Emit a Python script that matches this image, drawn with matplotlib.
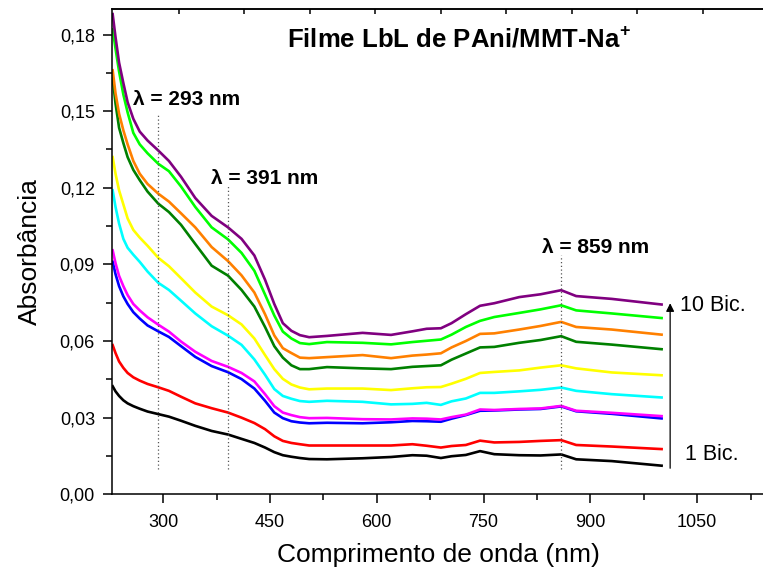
import matplotlib
matplotlib.use("Agg")
import matplotlib.pyplot as plt
from matplotlib.ticker import MultipleLocator, FixedLocator

plt.rcParams['font.family'] = ['Liberation Sans', 'DejaVu Sans']
plt.rcParams['mathtext.fontset'] = 'custom'
plt.rcParams['mathtext.rm'] = 'Liberation Sans'
plt.rcParams['mathtext.bf'] = 'Liberation Sans:bold'

# comprimento de onda (nm)
wl = [229, 233, 238, 244, 250, 258, 267, 278, 293, 308, 325, 345, 368, 391, 410,
      428, 443, 456, 468, 480, 492, 505, 530, 580, 620, 650, 670, 690, 705, 725,
      745, 765, 800, 830, 859, 880, 930, 1000]

# absorbancia de cada bicamada (1 a 10)
bic1 = [0.0423, 0.0403, 0.0385, 0.0368, 0.0356, 0.0345, 0.0335, 0.0324, 0.0314, 0.0304,
        0.0288, 0.0268, 0.0248, 0.0234, 0.0217, 0.0201, 0.0183, 0.0165, 0.0153, 0.0147,
        0.0142, 0.0138, 0.0137, 0.0141, 0.0146, 0.0153, 0.0151, 0.0142, 0.0149, 0.0154,
        0.0169, 0.0157, 0.0153, 0.0152, 0.0156, 0.0137, 0.0130, 0.0112]
bic2 = [0.0584, 0.0553, 0.0520, 0.0495, 0.0475, 0.0458, 0.0445, 0.0432, 0.0419, 0.0405,
        0.0382, 0.0356, 0.0337, 0.0320, 0.0300, 0.0279, 0.0255, 0.0227, 0.0209, 0.0201,
        0.0196, 0.0191, 0.0191, 0.0191, 0.0191, 0.0196, 0.0190, 0.0183, 0.0189, 0.0193,
        0.0210, 0.0203, 0.0205, 0.0209, 0.0212, 0.0193, 0.0187, 0.0177]
bic3 = [0.0910, 0.0862, 0.0815, 0.0775, 0.0745, 0.0713, 0.0688, 0.0661, 0.0638, 0.0616,
        0.0580, 0.0538, 0.0502, 0.0478, 0.0451, 0.0414, 0.0366, 0.0320, 0.0298, 0.0286,
        0.0281, 0.0278, 0.0280, 0.0278, 0.0282, 0.0287, 0.0286, 0.0284, 0.0296, 0.0310,
        0.0327, 0.0328, 0.0332, 0.0334, 0.0344, 0.0325, 0.0315, 0.0297]
bic4 = [0.0955, 0.0905, 0.0855, 0.0815, 0.0780, 0.0745, 0.0720, 0.0693, 0.0664, 0.0637,
        0.0598, 0.0558, 0.0522, 0.0499, 0.0475, 0.0442, 0.0392, 0.0345, 0.0320, 0.0310,
        0.0302, 0.0298, 0.0299, 0.0294, 0.0293, 0.0297, 0.0296, 0.0293, 0.0302, 0.0312,
        0.0332, 0.0330, 0.0334, 0.0336, 0.0346, 0.0327, 0.0319, 0.0306]
bic5 = [0.1190, 0.1125, 0.1060, 0.1000, 0.0965, 0.0938, 0.0910, 0.0872, 0.0828, 0.0800,
        0.0758, 0.0708, 0.0658, 0.0621, 0.0585, 0.0528, 0.0468, 0.0412, 0.0385, 0.0374,
        0.0365, 0.0362, 0.0366, 0.0362, 0.0352, 0.0354, 0.0358, 0.0350, 0.0364, 0.0375,
        0.0397, 0.0397, 0.0403, 0.0409, 0.0418, 0.0405, 0.0392, 0.0379]
bic6 = [0.1320, 0.1255, 0.1190, 0.1135, 0.1080, 0.1035, 0.1005, 0.0973, 0.0926, 0.0893,
        0.0846, 0.0790, 0.0735, 0.0701, 0.0665, 0.0610, 0.0545, 0.0490, 0.0452, 0.0430,
        0.0418, 0.0411, 0.0414, 0.0414, 0.0408, 0.0415, 0.0419, 0.0420, 0.0433, 0.0452,
        0.0475, 0.0479, 0.0485, 0.0496, 0.0505, 0.0493, 0.0477, 0.0466]
bic7 = [0.1630, 0.1530, 0.1435, 0.1375, 0.1320, 0.1270, 0.1230, 0.1185, 0.1138, 0.1105,
        0.1055, 0.0980, 0.0895, 0.0856, 0.0800, 0.0735, 0.0655, 0.0580, 0.0535, 0.0505,
        0.0490, 0.0490, 0.0498, 0.0493, 0.0490, 0.0499, 0.0502, 0.0505, 0.0527, 0.0551,
        0.0575, 0.0577, 0.0593, 0.0604, 0.0619, 0.0597, 0.0586, 0.0568]
bic8 = [0.1660, 0.1570, 0.1490, 0.1425, 0.1370, 0.1305, 0.1255, 0.1215, 0.1177, 0.1146,
        0.1100, 0.1045, 0.0968, 0.0913, 0.0857, 0.0790, 0.0705, 0.0622, 0.0572, 0.0553,
        0.0535, 0.0533, 0.0537, 0.0545, 0.0533, 0.0543, 0.0547, 0.0552, 0.0575, 0.0600,
        0.0628, 0.0630, 0.0645, 0.0659, 0.0675, 0.0655, 0.0645, 0.0625]
bic9 = [0.1820, 0.1745, 0.1655, 0.1565, 0.1495, 0.1415, 0.1370, 0.1335, 0.1294, 0.1265,
        0.1205, 0.1125, 0.1045, 0.0998, 0.0945, 0.0875, 0.0782, 0.0700, 0.0637, 0.0610,
        0.0592, 0.0588, 0.0596, 0.0593, 0.0587, 0.0596, 0.0601, 0.0606, 0.0625, 0.0655,
        0.0679, 0.0694, 0.0710, 0.0724, 0.0740, 0.0720, 0.0708, 0.0690]
bic10 = [0.1880, 0.1790, 0.1690, 0.1610, 0.1535, 0.1470, 0.1420, 0.1385, 0.1346, 0.1305,
         0.1243, 0.1160, 0.1090, 0.1045, 0.1000, 0.0935, 0.0840, 0.0745, 0.0670, 0.0640,
         0.0623, 0.0615, 0.0620, 0.0632, 0.0624, 0.0638, 0.0648, 0.0650, 0.0670, 0.0705,
         0.0738, 0.0748, 0.0772, 0.0783, 0.0799, 0.0776, 0.0765, 0.0743]

series = [bic1, bic2, bic3, bic4, bic5, bic6, bic7, bic8, bic9, bic10]
cores = ['#000000', '#FF0000', '#0000FF', '#FF00FF', '#00FFFF',
         '#FFFF00', '#008000', '#FF8000', '#00FF00', '#800080']

# picos marcados
picos = [293, 391, 859]
picos_ymax = [0.149, 0.1216, 0.0935]
picos_txt = ['λ = 293 nm', 'λ = 391 nm', 'λ = 859 nm']
picos_txt_pos = [(258, 0.1546), (367, 0.1236), (832, 0.0968)]

fig = plt.figure(figsize=(7.63, 5.79), dpi=100)
ax = fig.add_axes([0.1472, 0.1463, 0.8552, 0.8382])

for y, c in zip(series, cores):
    ax.plot(wl, y, color=c, lw=1.9, solid_joinstyle='round')

for p, ym in zip(picos, picos_ymax):
    ax.plot([p, p], [0.0098, ym], color='#555555', ls=(0, (1, 2)), lw=0.9)

for t, (xt, yt) in zip(picos_txt, picos_txt_pos):
    ax.text(xt, yt, t, fontsize=15, fontweight='bold', ha='left', va='center')

ax.text(474, 0.1784, r'Filme LbL de PAni/MMT-Na$^{\mathbf{+}}$', fontsize=18.5,
        fontweight='bold', ha='left', va='center')

ax.annotate('', xy=(1012, 0.0748), xytext=(1012, 0.0102),
            arrowprops=dict(arrowstyle='-|>', color='black', lw=0.9,
                            mutation_scale=12, shrinkA=0, shrinkB=0))
ax.text(1026, 0.0740, '10 Bic.', fontsize=15.5, ha='left', va='center')
ax.text(1033, 0.0154, '1 Bic.', fontsize=15.5, ha='left', va='center')

ax.set_xlim(228.5, 1145)
ax.set_ylim(0, 0.19)
ax.xaxis.set_major_locator(MultipleLocator(150))
ax.xaxis.set_minor_locator(MultipleLocator(75))
ax.yaxis.set_major_locator(MultipleLocator(0.03))
ax.yaxis.set_minor_locator(MultipleLocator(0.015))
ax.yaxis.set_major_formatter(plt.FuncFormatter(lambda v, p: f'{v:.2f}'.replace('.', ',')))
ax.tick_params(which='major', length=6.5, width=1.1, labelsize=13)
ax.tick_params(axis='x', which='major', pad=8)
ax.tick_params(axis='y', which='major', pad=6)
ax.tick_params(which='minor', length=4, width=1.1)

# eixo superior com marcas proprias
top = ax.secondary_xaxis('top')
top.xaxis.set_major_locator(FixedLocator([322, 414, 506, 598, 690, 782, 874, 966, 1058]))
top.tick_params(direction='in', length=3.5, width=1.1, labeltop=False)
top.spines['top'].set_linewidth(1.1)

for s in ax.spines.values():
    s.set_linewidth(1.1)

ax.set_xlabel('Comprimento de onda (nm)', fontsize=19, labelpad=8)
ax.set_ylabel('Absorbância', fontsize=19, labelpad=13)

fig.savefig('out.png', dpi=100)
